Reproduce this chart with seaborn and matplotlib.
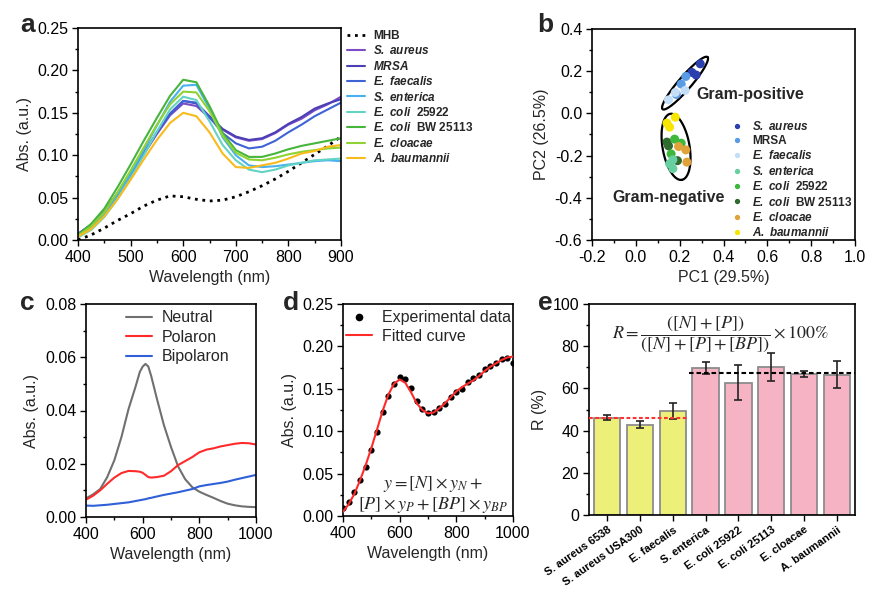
import numpy as np
import pandas as pd
import matplotlib
matplotlib.use("Agg")
import matplotlib.pyplot as plt
from matplotlib.lines import Line2D
from matplotlib.ticker import MultipleLocator
import seaborn as sns

# ---------------- panel a: spectra of bacteria in MHB ----------------
wl_a = [400, 425, 450, 475, 500, 525, 550, 575, 600, 625, 650, 675, 700,
        725, 750, 775, 800, 825, 850, 875, 900]
mhb = [0.000, 0.006, 0.014, 0.023, 0.031, 0.040, 0.047, 0.052, 0.051, 0.048, 0.046,
       0.047, 0.051, 0.057, 0.064, 0.072, 0.081, 0.091, 0.101, 0.111, 0.122]
s_aureus = [0.007, 0.018, 0.034, 0.054, 0.077, 0.101, 0.125, 0.147, 0.161, 0.158, 0.144,
            0.130, 0.121, 0.117, 0.119, 0.126, 0.136, 0.143, 0.153, 0.160, 0.169]
mrsa = [0.007, 0.018, 0.034, 0.055, 0.078, 0.102, 0.127, 0.149, 0.164, 0.161, 0.146,
        0.131, 0.122, 0.118, 0.120, 0.127, 0.137, 0.145, 0.155, 0.161, 0.166]
e_faecalis = [0.007, 0.018, 0.034, 0.055, 0.078, 0.102, 0.127, 0.149, 0.164, 0.162, 0.145,
              0.126, 0.114, 0.108, 0.110, 0.117, 0.127, 0.136, 0.146, 0.154, 0.162]
s_enterica = [0.005, 0.015, 0.030, 0.052, 0.078, 0.106, 0.135, 0.163, 0.182, 0.183, 0.155,
              0.121, 0.100, 0.088, 0.086, 0.087, 0.089, 0.091, 0.093, 0.094, 0.093]
e_coli_25922 = [0.003, 0.012, 0.027, 0.048, 0.073, 0.100, 0.128, 0.154, 0.169, 0.165, 0.140,
                0.112, 0.094, 0.083, 0.080, 0.083, 0.088, 0.091, 0.094, 0.095, 0.096]
e_coli_bw = [0.006, 0.019, 0.037, 0.062, 0.089, 0.117, 0.144, 0.170, 0.189, 0.186, 0.158,
             0.126, 0.106, 0.098, 0.098, 0.102, 0.107, 0.111, 0.114, 0.117, 0.120]
e_cloacae = [0.005, 0.016, 0.033, 0.056, 0.082, 0.109, 0.136, 0.160, 0.175, 0.174, 0.152,
             0.123, 0.103, 0.095, 0.094, 0.097, 0.101, 0.104, 0.106, 0.108, 0.109]
a_baumannii = [0.004, 0.013, 0.028, 0.048, 0.071, 0.095, 0.118, 0.138, 0.150, 0.146, 0.127,
               0.102, 0.086, 0.085, 0.088, 0.091, 0.096, 0.102, 0.105, 0.110, 0.112]

labels_a = ["MHB", r"$\mathbfit{S.\ aureus}$", r"$\mathbfit{MRSA}$", r"$\mathbfit{E.\ faecalis}$",
            r"$\mathbfit{S.\ enterica}$", r"$\mathbfit{E.\ coli}$  25922",
            r"$\mathbfit{E.\ coli}$  BW 25113", r"$\mathbfit{E.\ cloacae}$",
            r"$\mathbfit{A.\ baumannii}$"]
colors_a = ["black", "#7a4cc6", "#4b3fb6", "#3e63d4", "#48b1ee", "#63d3c3",
            "#47b53c", "#8ed333", "#f7bb1c"]

# ---------------- panel b: PCA scores ----------------
pc1 = [0.294, 0.256, 0.275, 0.228, 0.207, 0.185, 0.225, 0.180, 0.149,
       0.180, 0.142, 0.154, 0.142, 0.149, 0.190, 0.177, 0.207, 0.161,
       0.195, 0.228, 0.233, 0.169, 0.154, 0.169]
pc2 = [0.235, 0.194, 0.182, 0.175, 0.139, 0.090, 0.109, 0.099, 0.064,
       -0.018, -0.046, -0.065, -0.136, -0.154, -0.224, -0.122, -0.141, -0.192,
       -0.157, -0.173, -0.231, -0.220, -0.239, -0.262]
species_b = (["S. aureus"] * 3 + ["MRSA"] * 3 + ["E. faecalis"] * 3 + ["A. baumannii"] * 3
             + ["E. coli BW 25113"] * 3 + ["E. coli 25922"] * 3 + ["E. cloacae"] * 3
             + ["S. enterica"] * 3)
order_b = ["S. aureus", "MRSA", "E. faecalis", "S. enterica", "E. coli 25922",
           "E. coli BW 25113", "E. cloacae", "A. baumannii"]
labels_b = [r"$\mathbfit{S.\ aureus}$", "MRSA", r"$\mathbfit{E.\ faecalis}$",
            r"$\mathbfit{S.\ enterica}$", r"$\mathbfit{E.\ coli}$  25922",
            r"$\mathbfit{E.\ coli}$  BW 25113", r"$\mathbfit{E.\ cloacae}$",
            r"$\mathbfit{A.\ baumannii}$"]
colors_b = ["#2b3fae", "#5a9be6", "#c3def6", "#67cfa0", "#3cb83c", "#2f6b2f",
            "#e0a33a", "#f7e600"]

# ---------------- panel c: reference spectra ----------------
wl_c = [400, 425, 450, 475, 500, 525, 550, 575, 590, 600, 610, 620, 630, 650, 675,
        700, 725, 750, 775, 800, 825, 850, 875, 900, 925, 950, 975, 1000]
neutral = [0.0070, 0.0085, 0.0105, 0.0150, 0.0213, 0.0300, 0.0405, 0.0490, 0.0545,
           0.0565, 0.0575, 0.0565, 0.0530, 0.0445, 0.0345, 0.0263, 0.0190, 0.0142,
           0.0112, 0.0095, 0.0083, 0.0072, 0.0060, 0.0050, 0.0044, 0.0040, 0.0038, 0.0037]
polaron = [0.0065, 0.0080, 0.0100, 0.0125, 0.0148, 0.0165, 0.0173, 0.0172, 0.0170,
           0.0166, 0.0158, 0.0150, 0.0148, 0.0150, 0.0155, 0.0172, 0.0195, 0.0210,
           0.0225, 0.0243, 0.0253, 0.0258, 0.0265, 0.0270, 0.0275, 0.0278, 0.0277, 0.0272]
bipolaron = [0.0043, 0.0042, 0.0044, 0.0046, 0.0049, 0.0052, 0.0055, 0.0060, 0.0063,
             0.0065, 0.0067, 0.0070, 0.0072, 0.0077, 0.0083, 0.0088, 0.0093, 0.0099,
             0.0105, 0.0115, 0.0120, 0.0124, 0.0128, 0.0133, 0.0140, 0.0146, 0.0152, 0.0158]

# ---------------- panel d: fit example ----------------
wl_d = [400, 420, 440, 460, 480, 500, 520, 540, 560, 580, 600, 620, 640, 660, 680, 700,
        720, 740, 760, 780, 800, 820, 840, 860, 880, 900, 920, 940, 960, 980, 1000]
exp_d = [0.010, 0.017, 0.028, 0.042, 0.058, 0.078, 0.099, 0.123, 0.142, 0.156, 0.164,
         0.162, 0.151, 0.136, 0.126, 0.122, 0.123, 0.127, 0.132, 0.140, 0.146, 0.150,
         0.158, 0.163, 0.166, 0.173, 0.177, 0.180, 0.185, 0.186, 0.181]
fit_d = [0.005, 0.014, 0.026, 0.042, 0.060, 0.080, 0.102, 0.124, 0.143, 0.156, 0.161,
         0.157, 0.146, 0.133, 0.125, 0.121, 0.122, 0.127, 0.133, 0.140, 0.147, 0.152,
         0.156, 0.160, 0.165, 0.171, 0.176, 0.180, 0.184, 0.187, 0.188]

# ---------------- panel e: R ratio ----------------
strains_e = ["S. aureus 6538", "S. aureus USA300", "E. faecalis", "S. enterica",
             "E. coli 25922", "E. coli 25113", "E. cloacae", "A. baumannii"]
r_mean = [46.0, 42.8, 49.4, 69.7, 62.7, 70.0, 66.8, 66.5]
r_err = [1.2, 1.6, 3.7, 2.9, 8.4, 6.6, 1.5, 6.5]
bar_colors = ["#ecef78"] * 3 + ["#f6b3c4"] * 5
gp_mean = 46.0
gn_mean = 67.1

# ---------------- style ----------------
sns.set_theme(style="ticks")
plt.rcParams["font.family"] = ["Liberation Sans", "DejaVu Sans"]
plt.rcParams["mathtext.fontset"] = "custom"
plt.rcParams["mathtext.rm"] = "Liberation Sans"
plt.rcParams["mathtext.bf"] = "Liberation Sans:bold"
plt.rcParams["mathtext.bfit"] = "Liberation Sans:italic:bold"
plt.rcParams["mathtext.it"] = "Liberation Sans:italic"

W, H = 886, 599
fig = plt.figure(figsize=(W / 100, H / 100), dpi=100)
FS = 11.5
LEG = 8.5


def ax_at(l, t, r, b):
    return fig.add_axes([l / W, 1 - b / H, (r - l) / W, (b - t) / H])


def style(ax):
    for s in ax.spines.values():
        s.set_visible(True)
        s.set_linewidth(1.2)
        s.set_color("black")
    ax.tick_params(which="both", direction="out", top=False, right=False,
                   width=1.0, labelsize=FS, colors="black", pad=3)
    ax.tick_params(which="major", length=4)
    ax.tick_params(which="minor", length=2.5)


# panel a
ax = ax_at(78, 28, 341, 240)
series_a = [mhb, s_aureus, mrsa, e_faecalis, s_enterica, e_coli_25922, e_coli_bw,
            e_cloacae, a_baumannii]
for vals, lab, col in zip(series_a, labels_a, colors_a):
    if lab == "MHB":
        sns.lineplot(x=wl_a, y=vals, ax=ax, color=col, lw=2, ls=(0, (1, 1.7)), label=lab)
    else:
        sns.lineplot(x=wl_a, y=vals, ax=ax, color=col, lw=1.5, label=lab)
ax.set_xlim(400, 900)
ax.set_ylim(0, 0.25)
ax.xaxis.set_major_locator(MultipleLocator(100))
ax.xaxis.set_minor_locator(MultipleLocator(50))
ax.yaxis.set_major_locator(MultipleLocator(0.05))
ax.yaxis.set_minor_locator(MultipleLocator(0.025))
ax.yaxis.set_major_formatter(matplotlib.ticker.FormatStrFormatter("%.2f"))
ax.set_xlabel("Wavelength (nm)", fontsize=FS)
ax.set_ylabel("Abs. (a.u.)", fontsize=FS)
style(ax)
ax.legend(loc="upper left", bbox_to_anchor=(1.023, 0.99), frameon=False,
          prop={"weight": "bold", "size": LEG}, handlelength=1.5, handletextpad=0.7,
          labelspacing=0.2, borderpad=0, borderaxespad=0)

# panel b
ax = ax_at(592, 29, 855, 240)
df_b = pd.DataFrame({"pc1": pc1, "pc2": pc2, "species": species_b})
sns.scatterplot(data=df_b, x="pc1", y="pc2", hue="species", hue_order=order_b,
                palette=colors_b, s=42, linewidth=0, ax=ax, legend=False, zorder=3)
t = np.linspace(0, 2 * np.pi, 200)
# confidence ellipses (centre, half major axis, half minor axis)
for c, a, b in [((0.2245, 0.1435), (0.1025, 0.1235), (0.0224, -0.0202)),
                ((0.1835, -0.1585), (0.0265, -0.1565), (0.0606, 0.0111))]:
    ax.plot(c[0] + a[0] * np.cos(t) + b[0] * np.sin(t),
            c[1] + a[1] * np.cos(t) + b[1] * np.sin(t), color="black", lw=1.6)
ax.text(0.274, 0.0915, "Gram-positive", fontsize=FS, fontweight="bold", va="center")
ax.text(-0.109, -0.397, "Gram-negative", fontsize=FS, fontweight="bold", va="center")
ax.set_xlim(-0.2, 1.0)
ax.set_ylim(-0.6, 0.4)
ax.xaxis.set_major_locator(MultipleLocator(0.2))
ax.xaxis.set_minor_locator(MultipleLocator(0.1))
ax.yaxis.set_major_locator(MultipleLocator(0.2))
ax.yaxis.set_minor_locator(MultipleLocator(0.1))
ax.xaxis.set_major_formatter(matplotlib.ticker.FormatStrFormatter("%.1f"))
ax.yaxis.set_major_formatter(matplotlib.ticker.FormatStrFormatter("%.1f"))
ax.set_xlabel("PC1 (29.5%)", fontsize=FS)
ax.set_ylabel("PC2 (26.5%)", fontsize=FS)
style(ax)
handles_b = [Line2D([], [], ls="none", marker="o", markersize=2.8, color=c) for c in colors_b]
ax.legend(handles_b, labels_b, loc="upper left", bbox_to_anchor=(0.528, 0.57),
          frameon=False, prop={"weight": "bold", "size": LEG}, handlelength=1.0,
          handletextpad=0.78, labelspacing=0.2, borderpad=0, borderaxespad=0)

# panel c
ax = ax_at(86, 304, 256, 517)
sns.lineplot(x=wl_c, y=neutral, ax=ax, color="#707070", lw=1.5, label="Neutral")
sns.lineplot(x=wl_c, y=polaron, ax=ax, color="#ff2a2a", lw=1.5, label="Polaron")
sns.lineplot(x=wl_c, y=bipolaron, ax=ax, color="#3060d8", lw=1.5, label="Bipolaron")
ax.set_xlim(400, 1000)
ax.set_ylim(0, 0.08)
ax.xaxis.set_major_locator(MultipleLocator(200))
ax.xaxis.set_minor_locator(MultipleLocator(100))
ax.yaxis.set_major_locator(MultipleLocator(0.02))
ax.yaxis.set_minor_locator(MultipleLocator(0.01))
ax.yaxis.set_major_formatter(matplotlib.ticker.FormatStrFormatter("%.2f"))
ax.set_xlabel("Wavelength (nm)", fontsize=FS)
ax.set_ylabel("Abs. (a.u.)", fontsize=FS)
style(ax)
ax.legend(loc="upper left", bbox_to_anchor=(0.235, 0.97), frameon=False,
          fontsize=FS, handlelength=1.65, handletextpad=0.6, labelspacing=0.28,
          borderpad=0, borderaxespad=0)

# panel d
ax = ax_at(343, 304, 513, 516)
sns.scatterplot(x=wl_d, y=exp_d, ax=ax, color="black", s=20, linewidth=0, zorder=2)
sns.lineplot(x=wl_d, y=fit_d, ax=ax, color="#ff2a2a", lw=1.5, zorder=3)
ax.text(716, 0.0254, "$y=[N]\\times y_N+$\n$[P]\\times y_P+[BP]\\times y_{BP}$",
        ha="center", va="center", fontsize=13, multialignment="center",
        math_fontfamily="stix", linespacing=1.1)
ax.set_xlim(400, 1000)
ax.set_ylim(0, 0.25)
ax.xaxis.set_major_locator(MultipleLocator(200))
ax.xaxis.set_minor_locator(MultipleLocator(100))
ax.yaxis.set_major_locator(MultipleLocator(0.05))
ax.yaxis.set_minor_locator(MultipleLocator(0.025))
ax.yaxis.set_major_formatter(matplotlib.ticker.FormatStrFormatter("%.2f"))
ax.set_xlabel("Wavelength (nm)", fontsize=FS)
ax.set_ylabel("Abs. (a.u.)", fontsize=FS)
style(ax)
handles_d = [Line2D([], [], ls="none", marker="o", markersize=4.5, color="black"),
             Line2D([], [], color="#ff2a2a", lw=1.5)]
ax.legend(handles_d, ["Experimental data", "Fitted curve"], loc="upper left",
          bbox_to_anchor=(0.02, 0.97), frameon=False, fontsize=FS, handlelength=1.6,
          handletextpad=0.6, labelspacing=0.2, borderpad=0, borderaxespad=0)

# panel e
ax = ax_at(589, 304, 855, 515)
sns.barplot(x=strains_e, y=r_mean, hue=strains_e, palette=bar_colors, legend=False,
            width=0.8, edgecolor="#8c8c8c", linewidth=1.3, errorbar=None,
            saturation=1, ax=ax)
ax.errorbar(np.arange(len(r_mean)), r_mean, yerr=r_err, fmt="none", ecolor="#222222",
            elinewidth=1.2, capsize=3, capthick=1.2, zorder=4)
ax.plot([-0.55, 2.5], [gp_mean, gp_mean], color="#ff3030", lw=1.5, dashes=(1.8, 1.2), zorder=5)
ax.plot([2.5, 7.55], [gn_mean, gn_mean], color="black", lw=1.5, dashes=(2.2, 1.4), zorder=5)
ax.text(3.47, 85.5, r"$R=\dfrac{([N]+[P])}{([N]+[P]+[BP])}\times 100\%$",
        ha="center", va="center", fontsize=13, math_fontfamily="stix")
ax.set_xlim(-0.55, 7.55)
ax.set_ylim(0, 100)
ax.yaxis.set_major_locator(MultipleLocator(20))
ax.yaxis.set_minor_locator(MultipleLocator(10))
ax.set_xticks(range(len(strains_e)))
ax.set_xticklabels(strains_e, rotation=35, ha="right", rotation_mode="anchor",
                   fontweight="bold", fontsize=8)
ax.set_xlabel("")
ax.set_ylabel("R (%)", fontsize=FS)
style(ax)
ax.tick_params(axis="x", labelsize=8)

# panel letters
for letter, x, y in [("a", 20, 32), ("b", 537, 32), ("c", 20, 310), ("d", 283, 310), ("e", 538, 310)]:
    fig.text(x / W, 1 - y / H, letter, fontsize=19, fontweight="bold", ha="left", va="baseline")

fig.savefig("out.png", dpi=100)
